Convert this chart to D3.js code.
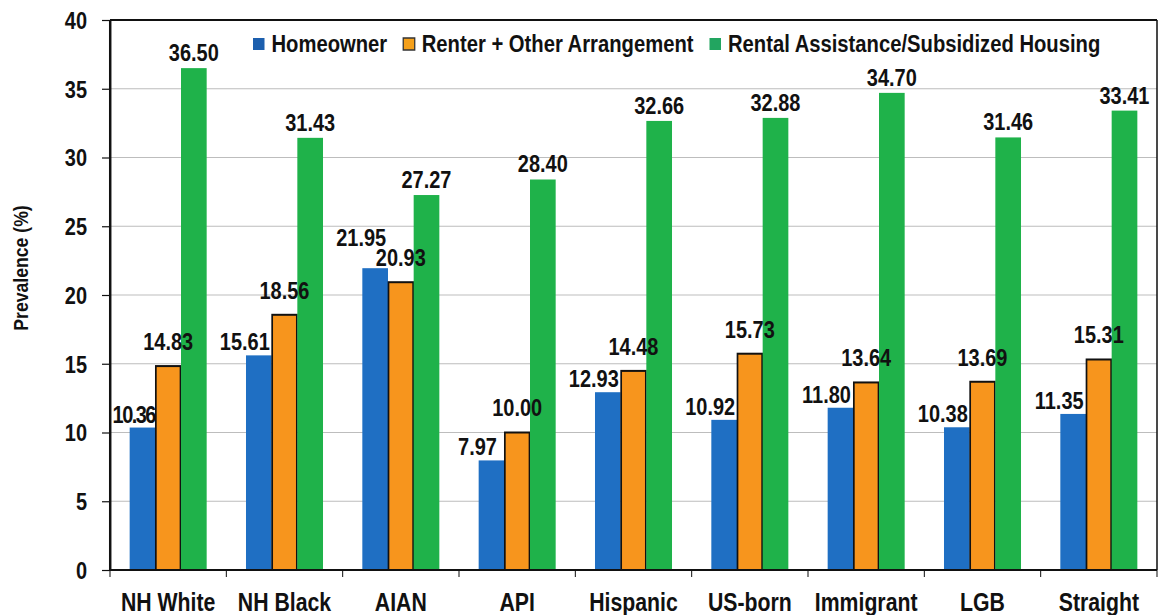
<!DOCTYPE html>
<html><head><meta charset="utf-8">
<script src="https://cdn.jsdelivr.net/npm/d3@7"></script>
<style>
html,body{margin:0;padding:0;background:#fff;}
text{font-family:"Liberation Sans",Arial,sans-serif;}
</style></head>
<body><svg id="chart" width="1163" height="615"></svg>
<script>
const categories = ["NH White","NH Black","AIAN","API","Hispanic","US-born","Immigrant","LGB","Straight"];
const seriesNames = ["Homeowner","Renter + Other Arrangement","Rental Assistance/Subsidized Housing"];
const homeowner = [10.36,15.61,21.95,7.97,12.93,10.92,11.80,10.38,11.35];
const renter = [14.83,18.56,20.93,10.00,14.48,15.73,13.64,13.69,15.31];
const rental = [36.50,31.43,27.27,28.40,32.66,32.88,34.70,31.46,33.41];
const yTicks = [0,5,10,15,20,25,30,35,40];
const yTitle = "Prevalence (%)";

(function(){
const colors = ["#1f6fc3","#f7951d","#1fb24a"];
const legendColors = ["#1c5fae","#f5a01a","#22a560"];
const SX = 0.85;
const px = v => v / SX;

const svg = d3.select("#chart");
svg.append("rect").attr("width",1163).attr("height",615).attr("fill","#fff");
const g = svg.append("g").attr("transform",`scale(${SX},1)`);

const mLeft = 110, mRight = 1157, mTop = 20, mBottom = 570;
const x0 = d3.scaleBand().domain(categories).range([px(mLeft), px(mRight)]).paddingInner(0).paddingOuter(0);
const groupW = x0.bandwidth() * 0.662;
const x1 = d3.scaleBand().domain(seriesNames).range([0, groupW]);
const y = d3.scaleLinear().domain([0,40]).range([mBottom, mTop]);

// gridlines
g.append("g").selectAll("line").data(yTicks.filter(t => t > 0 && t < 40)).join("line")
  .attr("x1", px(mLeft)).attr("x2", px(mRight))
  .attr("y1", d => y(d)).attr("y2", d => y(d))
  .attr("stroke","#bdbdbd").attr("stroke-width",1.2);

// bars
const data = categories.map((c,i) => ({cat:c, vals:[homeowner[i], renter[i], rental[i]]}));
const groups = g.append("g").selectAll("g").data(data).join("g")
  .attr("transform", d => `translate(${x0(d.cat) + (x0.bandwidth()-groupW)/2},0)`);
groups.selectAll("rect").data(d => d.vals.map((v,k) => ({v, k}))).join("rect")
  .attr("x", d => x1(seriesNames[d.k]) + (d.k === 1 ? 0.6 : 0))
  .attr("width", d => x1.bandwidth() - (d.k === 1 ? 1.2 : 0))
  .attr("y", d => y(d.v))
  .attr("height", d => mBottom - y(d.v))
  .attr("fill", d => colors[d.k])
  .attr("stroke", d => d.k === 1 ? "#111" : "none")
  .attr("stroke-width", 2);

// labels
const gaps = [5, 16, 7];
const shifts = [-14, 0, 0];
const textH = 17;
groups.each(function(d, i) {
  const gg = d3.select(this);
  const orangeBase = y(d.vals[1]) - gaps[1];
  d.vals.forEach((v, k) => {
    let cx = x1(seriesNames[k]) + x1.bandwidth()/2 + px(shifts[k]);
    let base = y(v) - gaps[k];
    if (k === 0 && base > orangeBase - textH - 2 && base < orangeBase + textH) {
      base = orangeBase - textH - 3;
    }
    const t = gg.append("text")
      .attr("y", base)
      .attr("text-anchor","middle")
      .attr("font-size", 23.5).attr("font-weight","bold").attr("fill","#111")
      .text(v.toFixed(2));
    const w = t.node().getComputedTextLength();
    const groupLeft = x0(d.cat) + (x0.bandwidth()-groupW)/2;
    const absLeft = groupLeft + cx - w/2;
    if (absLeft < px(mLeft) + 2) {
      t.attr("letter-spacing", -1.8);
      const w2 = t.node().getComputedTextLength();
      cx = px(mLeft) + 3 - groupLeft + w2/2;
    }
    t.attr("x", cx);
  });
});

// y axis
const yAxis = d3.axisLeft(y).tickValues(yTicks).tickSizeInner(px(8)).tickSizeOuter(0).tickPadding(px(15));
const ya = g.append("g").attr("transform",`translate(${px(mLeft)},0)`).call(yAxis);
ya.select(".domain").attr("stroke","#111").attr("stroke-width",2.4);
ya.selectAll(".tick line").attr("stroke","#111").attr("stroke-width",1.2);
ya.selectAll(".tick text").attr("font-size",23.5).attr("font-weight","bold").attr("fill","#111")
  .attr("font-family","Liberation Sans, Arial, sans-serif").attr("dy","0.36em");

// x axis (labels)
const xAxis = d3.axisBottom(x0).tickSize(0).tickPadding(0);
const xa = g.append("g").attr("transform",`translate(0,${mBottom})`).call(xAxis);
xa.select(".domain").remove();
xa.selectAll(".tick text").attr("font-size",25).attr("font-weight","bold").attr("fill","#111")
  .attr("font-family","Liberation Sans, Arial, sans-serif").attr("dy",null).attr("y",41);
// boundary ticks
const bounds = categories.map(c => x0(c)).concat([px(mRight)]);
g.append("g").selectAll("line").data(bounds).join("line")
  .attr("x1", d => d).attr("x2", d => d).attr("y1", mBottom).attr("y2", mBottom + 7)
  .attr("stroke","#111").attr("stroke-width",1.2);
// axis lines / frame
g.append("line").attr("x1",px(mLeft)).attr("x2",px(mRight)).attr("y1",mBottom).attr("y2",mBottom)
  .attr("stroke","#111").attr("stroke-width",2.2);
g.append("line").attr("x1",px(mLeft)).attr("x2",px(mRight)).attr("y1",mTop).attr("y2",mTop)
  .attr("stroke","#111").attr("stroke-width",2.2);
g.append("line").attr("x1",px(mRight)).attr("x2",px(mRight)).attr("y1",mTop).attr("y2",mBottom)
  .attr("stroke","#111").attr("stroke-width",1.8);
g.append("line").attr("x1",px(mLeft)).attr("x2",px(mLeft)).attr("y1",mTop).attr("y2",mBottom)
  .attr("stroke","#111").attr("stroke-width",2.4);

// legend
const lg = g.append("g");
let lx = px(253);
seriesNames.forEach((s, k) => {
  lg.append("rect").attr("x", lx).attr("y", 38).attr("width", px(11.5)).attr("height", 12)
    .attr("fill", legendColors[k]).attr("stroke", k === 1 ? "#333" : "none").attr("stroke-width", 1.5);
  lx += px(18.5);
  const t = lg.append("text").attr("x", lx).attr("y", 52)
    .attr("font-size", 23.8).attr("font-weight","bold").attr("fill","#111").text(s);
  lx += t.node().getComputedTextLength() + px(16);
});

// y title
svg.append("text")
  .attr("transform","translate(28,268) rotate(-90) scale(0.86,1)")
  .attr("text-anchor","middle").attr("font-size",20.5).attr("font-weight","bold").attr("fill","#111")
  .text(yTitle);
})();
</script></body></html>
